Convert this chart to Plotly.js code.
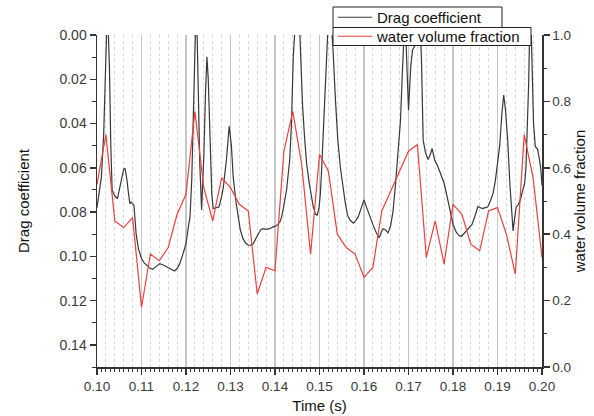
<!DOCTYPE html>
<html><head><meta charset="utf-8">
<script src="https://cdn.plot.ly/plotly-3.0.1.min.js"></script>
<style>html,body{margin:0;padding:0;background:#fff}#chart{width:594px;height:416px}</style>
</head><body><div id="chart"></div>
<script>
// Drag coefficient (left axis, reversed) vs time
const timeDrag = [
0.1000,0.1004,0.1010,0.1015,0.1019,0.1022,0.1025,0.1028,0.1031,0.1034,0.1037,0.1041,0.1046,0.1050,0.1055,0.1060,0.1063,0.1067,0.1071,0.1074,0.1077,0.1080,0.1083,0.1088,0.1093,
0.1100,0.1106,0.1112,0.1118,0.1125,0.1133,0.1141,0.1150,0.1158,0.1166,0.1174,0.1180,0.1186,0.1193,
0.1200,0.1205,0.1209,0.1213,0.1216,0.1219,0.1222,0.1225,0.1228,0.1231,0.1235,0.1240,0.1244,0.1247,0.1250,0.1254,0.1258,0.1261,0.1267,0.1274,0.1280,0.1284,0.1291,0.1297,
0.1302,0.1306,0.1312,0.1317,0.1322,0.1328,0.1334,0.1340,0.1346,0.1351,0.1356,0.1362,0.1368,0.1373,0.1380,0.1388,0.1396,
0.1403,0.1411,0.1415,0.1420,0.1426,0.1433,0.1437,0.1441,0.1445,0.1450,0.1455,0.1458,0.1462,0.1466,0.1471,0.1477,0.1482,0.1486,0.1491,0.1495,0.1499,
0.1502,0.1505,0.1508,0.1512,0.1516,0.1520,0.1525,0.1530,0.1536,0.1541,0.1547,0.1553,0.1558,0.1563,0.1568,0.1576,0.1581,0.1587,0.1594,
0.1600,0.1606,0.1613,0.1622,0.1628,0.1634,0.1639,0.1643,0.1648,0.1654,0.1660,0.1665,0.1671,0.1676,0.1682,0.1686,0.1689,0.1691,0.1694,0.1697,
0.1700,0.1703,0.1705,0.1709,0.1715,0.1720,0.1723,0.1726,0.1729,0.1731,0.1733,0.1738,0.1744,0.1749,0.1753,0.1759,0.1765,0.1772,0.1780,0.1787,0.1795,
0.1800,0.1807,0.1813,0.1819,0.1825,0.1833,0.1843,0.1849,0.1856,0.1861,0.1867,0.1872,0.1878,0.1884,0.1890,0.1895,
0.1900,0.1905,0.1910,0.1914,0.1918,0.1923,0.1928,0.1933,0.1935,0.1939,0.1942,0.1947,0.1952,0.1957,0.1961,0.1964,0.1967,0.1970,0.1972,0.1974,0.1976,0.1978,0.1981,0.1985,0.1990,0.1994,0.1997,0.2000];
const dragCoefficient = [
0.078,0.072,0.064,0.045,0.015,-0.004,-0.004,0.015,0.050,0.070,0.0716,0.073,0.0739,0.070,0.064,0.0605,0.0603,0.065,0.072,0.0762,0.0755,0.0760,0.0769,0.090,0.0965,
0.1010,0.1030,0.1040,0.1052,0.1059,0.1045,0.1033,0.1040,0.1048,0.1058,0.1066,0.1055,0.1033,0.0990,
0.0943,0.0870,0.0822,0.0650,0.040,0.005,-0.008,0.000,0.030,0.058,0.079,0.055,0.025,0.0098,0.020,0.050,0.072,0.0784,0.0780,0.0777,0.0730,0.0686,0.056,0.0412,
0.050,0.064,0.075,0.0822,0.088,0.092,0.094,0.0950,0.0950,0.0943,0.092,0.090,0.088,0.0875,0.0878,0.0875,0.0867,
0.0862,0.0845,0.0822,0.077,0.070,0.0566,0.040,0.010,-0.010,-0.020,-0.005,0.012,0.032,0.045,0.058,0.067,0.074,0.0777,0.081,0.0814,0.078,
0.0716,0.060,0.045,0.025,0.008,-0.008,-0.010,0.005,0.030,0.047,0.060,0.070,0.076,0.0814,0.0835,0.0850,0.0840,0.0822,0.078,
0.0745,0.078,0.0822,0.0867,0.0895,0.0916,0.089,0.0875,0.088,0.0894,0.086,0.080,0.067,0.055,0.0385,0.018,0.000,-0.005,0.000,0.018,
0.034,0.022,0.0143,0.0068,0.0045,0.0030,-0.002,-0.004,0.010,0.030,0.0475,0.053,0.0563,0.054,0.0513,0.0566,0.059,0.0626,0.067,0.0732,0.0807,
0.0855,0.089,0.0905,0.0910,0.0895,0.0875,0.0855,0.082,0.0775,0.078,0.0784,0.0780,0.0777,0.075,0.0716,0.066,
0.058,0.050,0.035,0.0271,0.034,0.048,0.068,0.085,0.0885,0.082,0.0777,0.0765,0.0740,0.070,0.0671,0.060,0.045,0.022,0.000,-0.008,0.000,0.020,0.040,0.0505,0.0515,0.056,0.060,0.068];

// Water volume fraction (right axis) vs time
const timeWater = [0.100,0.102,0.104,0.106,0.108,0.110,0.112,0.114,0.116,0.118,0.120,0.122,0.124,0.126,0.128,0.130,0.132,0.134,0.136,0.138,0.140,0.142,0.144,0.146,0.148,0.150,0.152,0.154,0.156,0.158,0.160,0.162,0.164,0.166,0.168,0.170,0.172,0.174,0.176,0.178,0.180,0.182,0.184,0.186,0.188,0.190,0.192,0.194,0.196,0.198,0.200];
const waterFraction = [0.55,0.70,0.44,0.42,0.45,0.18,0.34,0.32,0.36,0.46,0.52,0.77,0.54,0.44,0.57,0.54,0.49,0.47,0.22,0.30,0.29,0.65,0.77,0.61,0.34,0.64,0.59,0.40,0.36,0.34,0.27,0.30,0.47,0.53,0.59,0.65,0.67,0.33,0.44,0.31,0.49,0.46,0.37,0.35,0.47,0.48,0.40,0.28,0.70,0.57,0.33];

const seriesNames = ['Drag coefficient', 'water volume fraction'];
const axisTitles = {x: 'Time (s)', y: 'Drag coefficient', y2: 'water volume fraction'};

const W = 594, H = 416, L = 97, R = 52, T = 35, B = 49;
const pw = W - L - R, ph = H - T - B;
const px = p => (p - L) / pw;
const py = p => (H - B - p) / ph;

const FONT = 'Arial, "Liberation Sans", sans-serif';
const TICKC = '#3a3a3a';
const legendStyle = {xanchor: 'left', yanchor: 'middle', bgcolor: 'rgba(0,0,0,0)', borderwidth: 0,
                     font: {family: FONT, size: 15, color: '#111'}, itemwidth: 34};

const traces = [
  {x: timeDrag, y: dragCoefficient, name: seriesNames[0], type: 'scatter', mode: 'lines',
   line: {color: '#383838', width: 1.2}, xaxis: 'x', yaxis: 'y', legend: 'legend'},
  {x: timeWater, y: waterFraction, name: seriesNames[1], type: 'scatter', mode: 'lines',
   line: {color: '#e8413f', width: 1.2}, xaxis: 'x2', yaxis: 'y2', legend: 'legend2'}
];

const layout = {
  width: W, height: H,
  margin: {l: L, r: R, t: T, b: B, pad: 0, autoexpand: false},
  paper_bgcolor: '#fff', plot_bgcolor: '#fff',
  font: {family: FONT, color: TICKC},
  showlegend: true,
  legend: Object.assign({x: px(333), y: py(17.5)}, legendStyle),
  legend2: Object.assign({x: px(333), y: py(36.5)}, legendStyle),
  xaxis: {range: [0.1, 0.2], tick0: 0.1, dtick: 0.01, tickformat: '.2f',
          ticks: 'outside', ticklen: 6, tickwidth: 1.5, tickcolor: '#333',
          showline: true, linecolor: '#333', linewidth: 1.5, zeroline: false,
          showgrid: true, gridcolor: '#c6c6c6', gridwidth: 1.5,
          minor: {dtick: 0.002, tick0: 0.1, showgrid: true, gridcolor: '#d6d6d6', gridwidth: 1, griddash: 'dot', ticks: ''},
          tickfont: {size: 13.5, color: TICKC},
          title: {text: axisTitles.x, font: {size: 15, color: '#111'}, standoff: 8}},
  xaxis2: {overlaying: 'x', anchor: 'y', side: 'bottom', range: [0.1, 0.2], tick0: 0.1, dtick: 0.001,
           ticks: 'outside', ticklen: 3.5, tickwidth: 1, tickcolor: '#333', showticklabels: false,
           showgrid: false, zeroline: false, showline: false},
  yaxis: {range: [0.15, 0], tick0: 0, dtick: 0.02, tickformat: '.2f',
          ticks: 'outside', ticklen: 6, tickwidth: 1.5, tickcolor: '#333',
          showline: true, linecolor: '#333', linewidth: 1.5, zeroline: false, showgrid: false,
          minor: {dtick: 0.01, ticks: 'outside', ticklen: 3.5, tickwidth: 1, tickcolor: '#333', showgrid: false},
          tickfont: {size: 14, color: TICKC},
          title: {text: axisTitles.y, font: {size: 15, color: '#111'}, standoff: 26}},
  yaxis2: {overlaying: 'y', side: 'right', anchor: 'x', range: [0, 1], tick0: 0, dtick: 0.2, tickformat: '.1f',
           ticks: 'outside', ticklen: 6, tickwidth: 1.5, tickcolor: '#333',
           showline: true, linecolor: '#333', linewidth: 1.5, zeroline: false, showgrid: false,
           minor: {dtick: 0.1, ticks: 'outside', ticklen: 3.5, tickwidth: 1, tickcolor: '#333', showgrid: false},
           tickfont: {size: 13.5, color: TICKC},
           title: {text: axisTitles.y2, font: {size: 15, color: '#111'}, standoff: 4}},
  shapes: [
    {type: 'rect', xref: 'paper', yref: 'paper', x0: px(333), x1: px(502), y0: py(27.5), y1: py(7),
     fillcolor: '#fff', line: {color: '#222', width: 1}, layer: 'above'},
    {type: 'rect', xref: 'paper', yref: 'paper', x0: px(333), x1: px(531), y0: py(45.5), y1: py(27.5),
     fillcolor: '#fff', line: {color: '#222', width: 1}, layer: 'above'}
  ]
};

Plotly.newPlot('chart', traces, layout, {displayModeBar: false, staticPlot: true});
</script></body></html>
